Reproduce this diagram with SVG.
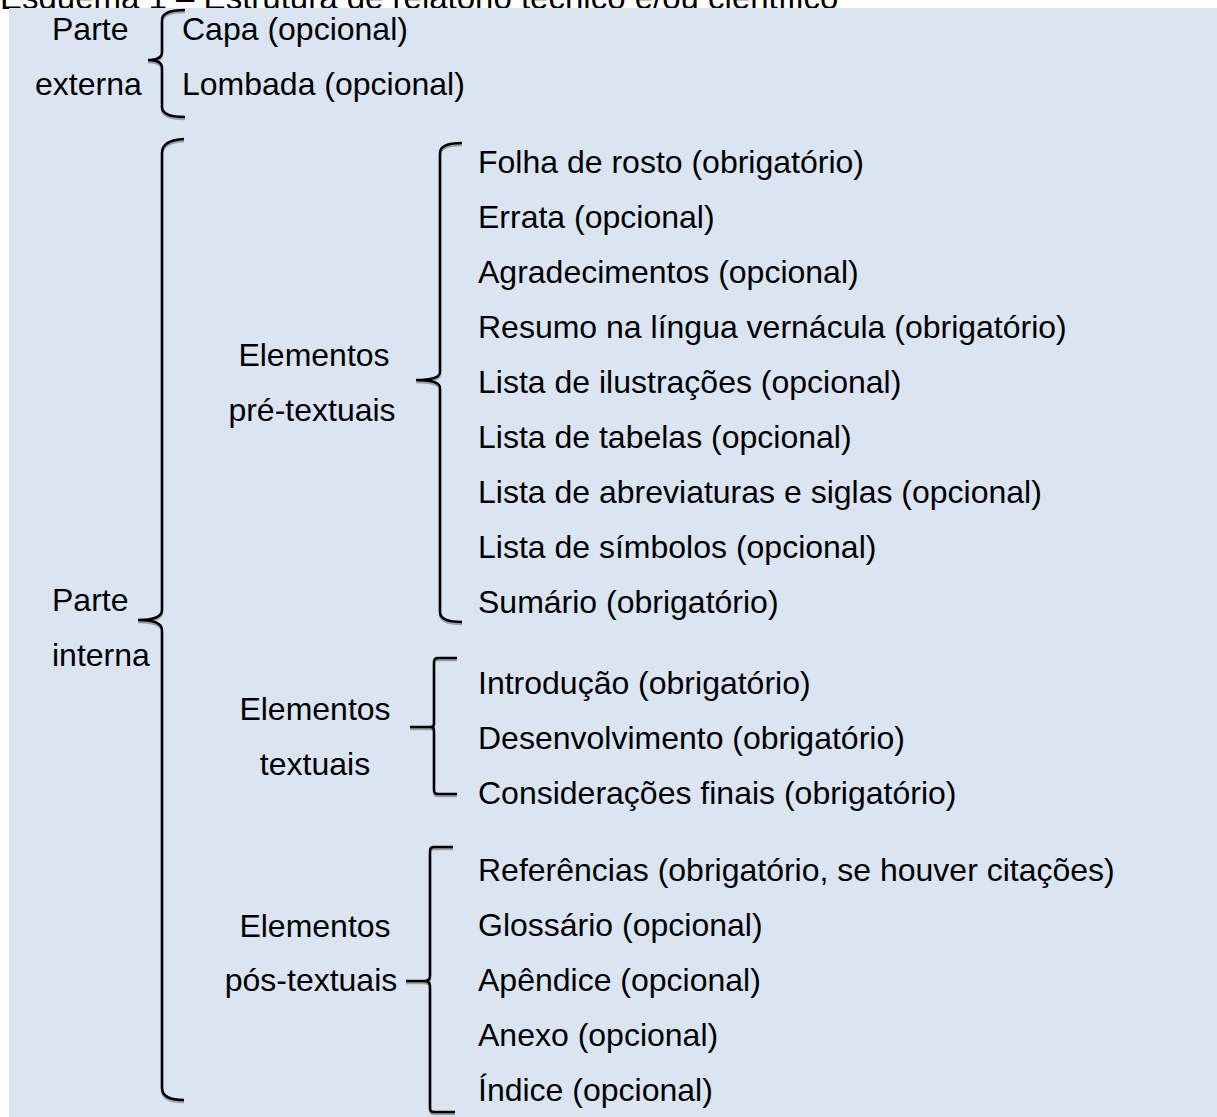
<svg xmlns="http://www.w3.org/2000/svg" width="1217" height="1117" viewBox="0 0 1217 1117">
<style>
text{font-family:"Liberation Sans",Arial,sans-serif;font-size:32px;fill:#000}
.c{text-anchor:middle}
.br{fill:none;stroke:#000;stroke-width:2.5;stroke-linecap:butt}
.sh{fill:none;stroke:#8c8c8c;stroke-width:2.5;opacity:.8}
</style>
<defs>
<path id="b1" d="M185,10 Q162,10 162,20 L162,52 Q162,60 148,60 Q162,60 162,68 L162,107 Q162,117 185,117"/>
<path id="b2" d="M184,139 Q162,140 162,153 L162,610 Q162,620 138,620 Q162,620 162,630 L162,1088 Q162,1100 184,1100"/>
<path id="b3" d="M462,143 Q440,143 440,153 L440,372 Q440,380 416,380 Q440,380 440,388 L440,612 Q440,622 462,622"/>
<path id="b4" d="M457,658 L438,658 Q434,658 434,662 L434,724 Q434,727 430,727 L410,727 L430,727 Q434,727 434,730 L434,790 Q434,794 438,794 L457,794"/>
<path id="b5" d="M453,847 L434,847 Q430,847 430,851 L430,976 Q430,981 424,981 L406,981 L424,981 Q430,981 430,986 L430,1108 Q430,1112 434,1112 L455,1112"/>
</defs>
<text x="0" y="9" style="font-size:33px">Esquema 1 – Estrutura de relatório técnico e/ou científico</text>
<rect x="9" y="8" width="1208" height="1109" fill="#DBE5F1"/>
<g id="connectors">
<use href="#b1" class="sh" transform="translate(0,2)"/><use href="#b1" class="br"/>
<use href="#b2" class="sh" transform="translate(0,2)"/><use href="#b2" class="br"/>
<use href="#b3" class="sh" transform="translate(0,2)"/><use href="#b3" class="br"/>
<use href="#b4" class="sh" transform="translate(0,2)"/><use href="#b4" class="br"/>
<use href="#b5" class="sh" transform="translate(0,2)"/><use href="#b5" class="br"/>
</g>
<g id="parte-externa"><text x="52" y="40">Parte</text><text x="35" y="95">externa</text></g>
<g id="externa-itens"><text x="182" y="40">Capa (opcional)</text><text x="182" y="95">Lombada (opcional)</text></g>
<g id="parte-interna"><text x="52" y="611">Parte</text><text x="52" y="666">interna</text></g>
<g id="pre-textuais"><text class="c" x="314" y="366">Elementos</text><text class="c" x="312" y="421">pré-textuais</text></g>
<g id="textuais"><text class="c" x="315" y="720">Elementos</text><text class="c" x="315" y="775">textuais</text></g>
<g id="pos-textuais"><text class="c" x="315" y="937">Elementos</text><text class="c" x="311" y="991">pós-textuais</text></g>
<g id="pre-itens">
<text x="478" y="173">Folha de rosto (obrigatório)</text>
<text x="478" y="228">Errata (opcional)</text>
<text x="478" y="283">Agradecimentos (opcional)</text>
<text x="478" y="338">Resumo na língua vernácula (obrigatório)</text>
<text x="478" y="393">Lista de ilustrações (opcional)</text>
<text x="478" y="448">Lista de tabelas (opcional)</text>
<text x="478" y="503">Lista de abreviaturas e siglas (opcional)</text>
<text x="478" y="558">Lista de símbolos (opcional)</text>
<text x="478" y="613">Sumário (obrigatório)</text>
</g>
<g id="textuais-itens">
<text x="478" y="694">Introdução (obrigatório)</text>
<text x="478" y="749">Desenvolvimento (obrigatório)</text>
<text x="478" y="804">Considerações finais (obrigatório)</text>
</g>
<g id="pos-itens">
<text x="478" y="881">Referências (obrigatório, se houver citações)</text>
<text x="478" y="936">Glossário (opcional)</text>
<text x="478" y="991">Apêndice (opcional)</text>
<text x="478" y="1046">Anexo (opcional)</text>
<text x="478" y="1101">Índice (opcional)</text>
</g>
</svg>
